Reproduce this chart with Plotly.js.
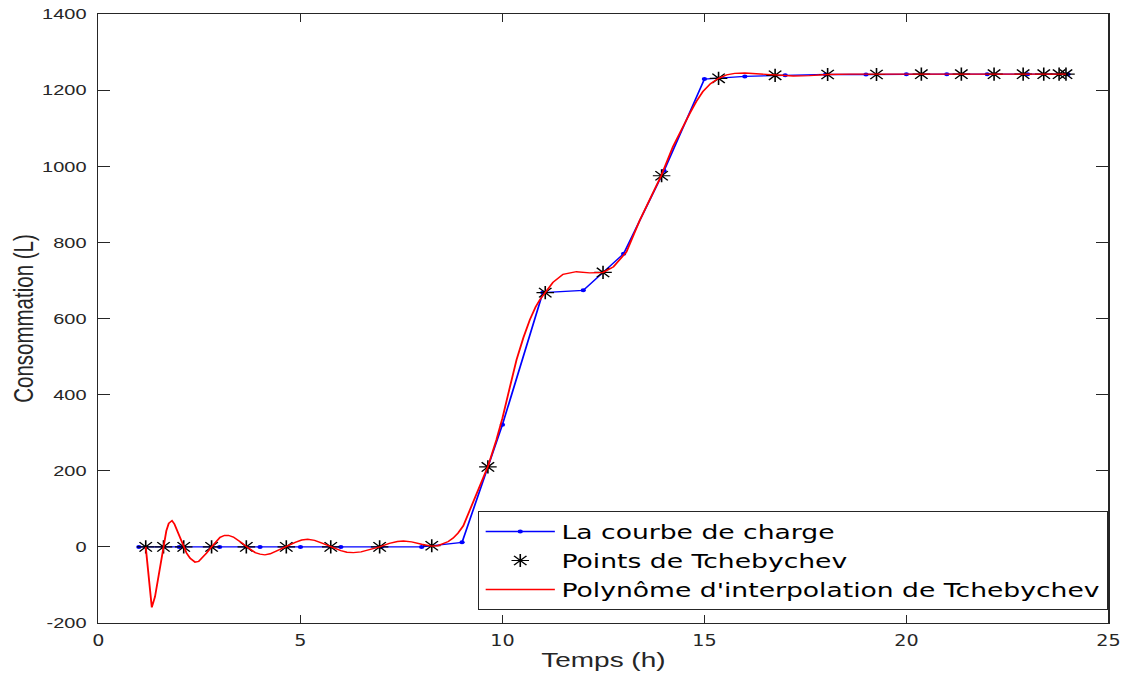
<!DOCTYPE html>
<html>
<head>
<meta charset="utf-8">
<script src="https://cdn.plot.ly/plotly-3.0.1.min.js"></script>
<style>
  html, body { margin: 0; padding: 0; background: #ffffff; overflow: hidden; }
  #chart { width: 847px; height: 680px; transform: scaleX(1.3306); transform-origin: 0 0; }
</style>
</head>
<body>
<div id="chart"></div>
<script>
// ---- data ----
const hours = [1,2,3,4,5,6,7,8,9,10,11,12,13,14,15,16,17,18,19,20,21,22,23,24];
const loadCurve = [0,0,0,0,0,0,0,0,12,321,668,674,770,988,1229,1236,1239,1241,1241,1242,1242,1242,1242,1242];

const chebX = [1.17,1.61,2.11,2.80,3.66,4.65,5.75,6.96,8.25,9.64,11.06,12.49,13.94,15.35,16.75,18.05,19.26,20.37,21.36,22.17,22.89,23.40,23.78,23.95];
const chebY = [0,0,0,0,0,0,0,0,3,210,668,721,975,1231,1239,1241,1241,1242,1242,1242,1242,1242,1242,1242];

const polyX = [1.17,1.32,1.40,1.50,1.61,1.68,1.74,1.82,1.88,1.94,2.02,2.10,2.18,2.27,2.39,2.48,2.56,2.68,2.80,2.90,3.01,3.12,3.22,3.34,3.46,3.57,3.67,3.78,3.88,4.00,4.12,4.25,4.37,4.50,4.63,4.87,5.03,5.18,5.35,5.55,5.75,6.00,6.15,6.31,6.50,6.75,6.96,7.20,7.40,7.55,7.75,8.00,8.25,8.40,8.53,8.66,8.78,8.90,9.03,9.15,9.28,9.45,9.64,9.85,10.00,10.18,10.35,10.52,10.68,10.82,10.93,11.06,11.25,11.50,11.83,12.16,12.49,12.75,13.07,13.40,13.65,13.93,14.22,14.45,14.64,14.80,14.96,15.15,15.35,15.55,15.75,16.00,16.30,16.75,17.20,17.60,18.05,18.60,19.26,20.00,21.00,22.00,23.00,23.95];
const polyY = [0,-159,-131,-70,0,42,62,69,60,44,22,0,-16,-30,-40,-38,-30,-16,0,13,25,30,30,26,18,9,0,-8,-15,-19,-21,-18,-13,-7,0,12,18,20,17,9,0,-10,-14,-15,-13,-7,0,9,14,15.5,13,7,2,3,8,14,23,36,55,86,123,165,211,281,338,418,492,550,597,630,650,668,695,716,723,720,721,736,775,858,915,975,1051,1102,1139,1170,1196,1217,1231,1240,1244,1245,1243,1239,1237,1238,1241,1242,1242,1242,1242,1242,1242,1242];

const xTickVals = [0,5,10,15,20,25];
const xTickText = ['0','5','10','15','20','25'];
const yTickVals = [-200,0,200,400,600,800,1000,1200,1400];
const yTickText = ['-200','0','200','400','600','800','1000','1200','1400'];

const seriesNames = ['La courbe de charge', 'Points de Tchebychev', "Polynôme d'interpolation de Tchebychev"];

// ---- chart ----
const axisColor = '#262626';
const traces = [
  {
    x: hours, y: loadCurve, name: seriesNames[0], type: 'scatter', mode: 'lines+markers',
    line: {color: '#0000ff', width: 1.3},
    marker: {color: '#0000ff', size: 4, symbol: 'circle'}
  },
  {
    x: chebX, y: chebY, name: seriesNames[1], type: 'scatter', mode: 'markers',
    marker: {symbol: 'asterisk-open', size: 11, color: '#000000', line: {color: '#000000', width: 1.2}}
  },
  {
    x: polyX, y: polyY, name: seriesNames[2], type: 'scatter', mode: 'lines',
    line: {color: '#ff0000', width: 1.4}
  }
];

const layout = {
  width: 847, height: 680,
  margin: {l: 74, r: 14, t: 14, b: 57},
  paper_bgcolor: '#ffffff', plot_bgcolor: '#ffffff',
  font: {family: 'Liberation Sans, Arial, sans-serif', color: axisColor},
  showlegend: true,
  xaxis: {
    range: [0, 25], tickvals: xTickVals, ticktext: xTickText,
    showgrid: false, zeroline: false, showline: true, mirror: 'ticks',
    linecolor: axisColor, linewidth: 1, ticks: 'inside', ticklen: 8, tickcolor: axisColor, tickwidth: 1,
    tickfont: {family: 'Liberation Sans Narrow, DejaVu Sans Condensed, Arial, sans-serif', size: 16, color: axisColor},
    ticklabelstandoff: 3,
    title: {text: 'Temps (h)', font: {size: 21, color: axisColor}, standoff: 3}
  },
  yaxis: {
    range: [-200, 1400], tickvals: yTickVals, ticktext: yTickText,
    showgrid: false, zeroline: false, showline: true, mirror: 'ticks',
    linecolor: axisColor, linewidth: 1, ticks: 'inside', ticklen: 9, tickcolor: axisColor, tickwidth: 1,
    tickfont: {size: 15, color: axisColor},
    ticklabelstandoff: 5,
    title: {text: 'Consommation (L)', font: {size: 20.5, color: axisColor}, standoff: 0}
  },
  legend: {
    x: 1, xanchor: 'right', y: 0.1839, yanchor: 'top',
    bgcolor: '#ffffff', bordercolor: axisColor, borderwidth: 1,
    font: {family: 'DejaVu Sans, Liberation Sans, sans-serif', size: 20, color: '#000000'},
    itemwidth: 52, tracegroupgap: 0
  }
};

Plotly.newPlot('chart', traces, layout, {staticPlot: true, displayModeBar: false});
</script>
</body>
</html>
